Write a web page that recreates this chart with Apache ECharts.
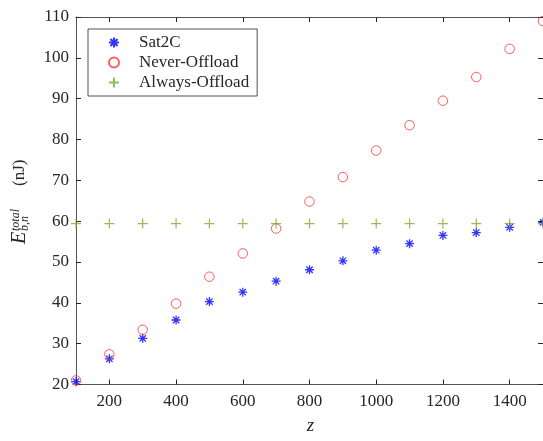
<!DOCTYPE html>
<html>
<head>
<meta charset="utf-8">
<script src="https://cdn.jsdelivr.net/npm/echarts@6/dist/echarts.min.js"></script>
<style>html,body{margin:0;padding:0;background:#fff}#c{width:543px;height:441px}</style>
</head>
<body>
<div id="c"></div>
<script>
const zValues = [100,200,300,400,500,600,700,800,900,1000,1100,1200,1300,1400,1500];
const sat2c = [20.7,26.3,31.3,35.8,40.3,42.6,45.3,48.1,50.3,52.9,54.5,56.5,57.2,58.5,59.7];
const neverOffload = [21.0,27.4,33.4,39.8,46.4,52.1,58.2,64.8,70.8,77.3,83.5,89.5,95.3,102.2,109.0];
const alwaysOffload = [59.4,59.4,59.4,59.4,59.4,59.4,59.4,59.4,59.4,59.4,59.4,59.4,59.4,59.4,59.4];
const xTicks = [200,400,600,800,1000,1200,1400];
const seriesNames = ['Sat2C','Never-Offload','Always-Offload'];

const FONT = '"Liberation Serif", "DejaVu Serif", serif';
const AX = '#555555';
const TXT = '#262626';
const pair = (vals) => zValues.map((z,i)=>[z, vals[i]]);
const plain = (v) => String(v);

const asterisk = 'path://M0,-5L0,5M-5,0L5,0M-3.54,-3.54L3.54,3.54M-3.54,3.54L3.54,-3.54';
const plus = 'path://M0,-5L0,5M-5,0L5,0';

const chart = echarts.init(document.getElementById('c'), null, {renderer:'canvas'});
const xCommon = {type:'value', min:100, max:1500, splitLine:{show:false}};
const yCommon = {type:'value', min:20, max:110, interval:10, splitLine:{show:false}};
chart.setOption({
  animation:false,
  backgroundColor:'#fff',
  grid:{left:76, top:17, right:-2, bottom:56.5, containLabel:false},
  xAxis:[
    Object.assign({}, xCommon, {position:'bottom',
      axisLine:{show:true, lineStyle:{color:AX, width:1}},
      axisTick:{show:true, inside:true, length:5, customValues:xTicks, lineStyle:{color:TXT}},
      axisLabel:{show:true, margin:9, customValues:xTicks, formatter:plain, color:TXT, fontFamily:FONT, fontSize:17}
    }),
    Object.assign({}, xCommon, {position:'top',
      axisLine:{show:true, lineStyle:{color:AX, width:1}},
      axisTick:{show:true, inside:true, length:5, customValues:xTicks, lineStyle:{color:TXT}},
      axisLabel:{show:false}
    })
  ],
  yAxis:[
    Object.assign({}, yCommon, {position:'left',
      axisLine:{show:true, lineStyle:{color:AX, width:1}},
      axisTick:{show:true, inside:true, length:5, lineStyle:{color:TXT}},
      axisLabel:{show:true, margin:7, formatter:plain, color:TXT, fontFamily:FONT, fontSize:17}
    }),
    Object.assign({}, yCommon, {position:'right',
      axisLine:{show:true, lineStyle:{color:AX, width:1}},
      axisTick:{show:true, inside:true, length:5, lineStyle:{color:TXT}},
      axisLabel:{show:false}
    })
  ],
  legend:{
    left:88, top:29, orient:'vertical',
    data:seriesNames,
    itemWidth:40, itemHeight:10, itemGap:3,
    padding:[5,8,5,20],
    borderColor:TXT, borderWidth:0.8, backgroundColor:'#fff',
    textStyle:{fontFamily:FONT, fontSize:17, color:TXT},
    selectedMode:false
  },
  series:[
    {name:seriesNames[0], type:'scatter', data:pair(sat2c), symbol:asterisk, symbolSize:9,
     itemStyle:{color:'rgba(0,0,0,0)', borderColor:'#0000ff', borderWidth:1.3}},
    {name:seriesNames[1], type:'scatter', data:pair(neverOffload), symbol:'circle', symbolSize:9.5,
     itemStyle:{color:'rgba(0,0,0,0)', borderColor:'#ff3333', borderWidth:1}},
    {name:seriesNames[2], type:'scatter', data:pair(alwaysOffload), symbol:plus, symbolSize:10,
     itemStyle:{color:'rgba(0,0,0,0)', borderColor:'#77ac30', borderWidth:1.2}}
  ],
  graphic:[
    {type:'text', x:310.5, y:426, style:{text:'z', font:'italic 19px '+FONT, fill:TXT, align:'center', verticalAlign:'middle'}},
    {type:'group', x:19.5, y:200, rotation:Math.PI/2, children:[
      {type:'text', x:-44, y:0, style:{text:'E', font:'italic 20px '+FONT, fill:TXT, align:'left', verticalAlign:'middle'}},
      {type:'text', x:-31, y:-4, style:{text:'total', font:'italic 12px '+FONT, fill:TXT, align:'left', verticalAlign:'middle'}},
      {type:'text', x:-31, y:5.5, style:{text:'b,n', font:'italic 12px '+FONT, fill:TXT, align:'left', verticalAlign:'middle'}},
      {type:'text', x:14, y:0, style:{text:'(nJ)', font:'17px '+FONT, fill:TXT, align:'left', verticalAlign:'middle'}}
    ]}
  ]
});
</script>
</body>
</html>
